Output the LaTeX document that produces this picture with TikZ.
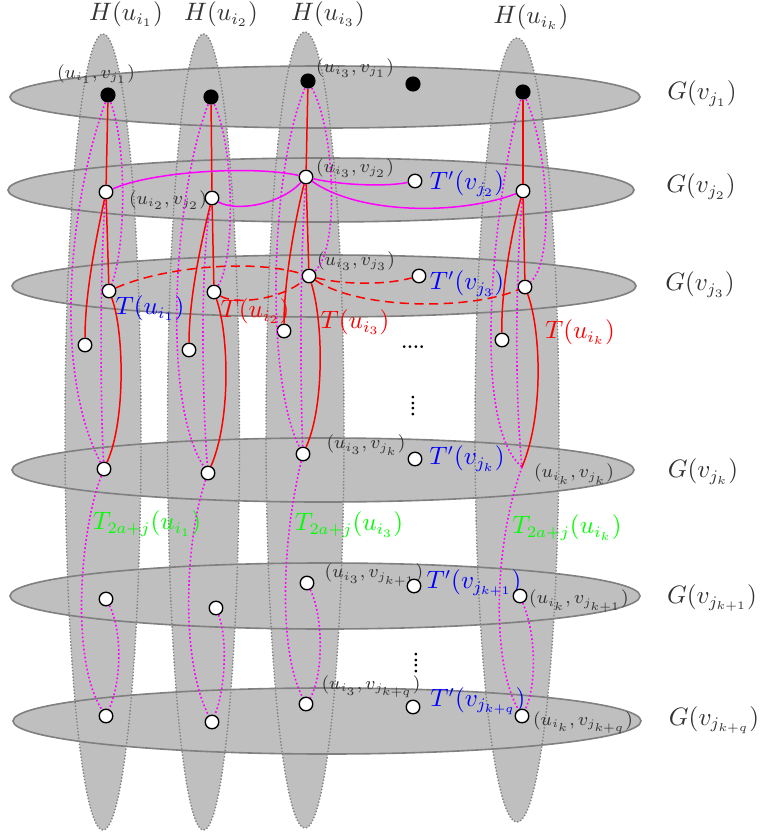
\documentclass[tikz,border=0pt]{standalone}
\definecolor{mag}{RGB}{255,0,255}
\definecolor{rd}{RGB}{255,0,0}
\definecolor{bl}{RGB}{0,0,255}
\definecolor{gr}{RGB}{0,255,0}
\definecolor{fillg}{RGB}{191,191,191}
\definecolor{edgeg}{RGB}{128,128,128}
\begin{document}
\begin{tikzpicture}[x=0.435pt,y=-0.435pt,
  colborder/.style={draw=edgeg, line width=0.6pt, dash pattern=on 0.6pt off 0.8pt},
  rowborder/.style={draw=edgeg, line width=0.7pt},
  bnode/.style={circle, fill=black, draw=none, inner sep=0pt, minimum size=6.6pt},
  wnode/.style={circle, draw=black, fill=white, line width=0.6pt, inner sep=0pt, minimum size=5.9pt},
  rline/.style={rd, line width=0.65pt},
  rdash/.style={rd, line width=0.65pt, dash pattern=on 4pt off 2.4pt},
  mline/.style={mag, line width=0.65pt},
  mdot/.style={mag, line width=0.72pt, dash pattern=on 0.72pt off 1.05pt},
  slbl/.style={text=black!80, font=\fontsize{7.6}{9}\selectfont, inner sep=0pt},
  blbl/.style={text=black!80, font=\fontsize{10.5}{12}\selectfont, inner sep=0pt},
  tlbl/.style={font=\fontsize{10.5}{12}\selectfont, inner sep=0pt},
  dots/.style={font=\fontsize{7.5}{8}\selectfont\bfseries, inner sep=0pt}]
\useasboundingbox (0,0) rectangle (760,837);
% fills
\foreach \cx/\cy/\rx/\ry in {103/432/38/398, 203.5/432/36/398, 305/430/39/398, 517/430/42/392}
  \fill[fillg] (\cx,\cy) ellipse [x radius=\rx*0.435pt, y radius=\ry*0.435pt];
\foreach \cx/\cy/\rx/\ry in {325/97/315/31, 321/190/313/32, 324/286/312/31, 323/470/311/32, 325/596/315/33, 327/721/314/33}
  \fill[fillg] (\cx,\cy) ellipse [x radius=\rx*0.435pt, y radius=\ry*0.435pt];
% borders
\foreach \cx/\cy/\rx/\ry in {103/432/38/398, 203.5/432/36/398, 305/430/39/398, 517/430/42/392}
  \path[colborder] (\cx,\cy) ellipse [x radius=\rx*0.435pt, y radius=\ry*0.435pt];
\foreach \cx/\cy/\rx/\ry in {325/97/315/31, 321/190/313/32, 324/286/312/31, 323/470/311/32, 325/596/315/33, 327/721/314/33}
  \path[rowborder] (\cx,\cy) ellipse [x radius=\rx*0.435pt, y radius=\ry*0.435pt];

% labels
\node[blbl] (h1) at (126,14) {$H(u_{i_1})$};
\node[blbl] (h2) at (221,14) {$H(u_{i_2})$};
\node[blbl] (h3) at (328,14) {$H(u_{i_3})$};
\node[blbl] (h4) at (531,17) {$H(u_{i_k})$};
\node[blbl] (g1) at (702,94) {$G(v_{j_1})$};
\node[blbl] (g2) at (701,187) {$G(v_{j_2})$};
\node[blbl] (g3) at (700,285) {$G(v_{j_3})$};
\node[blbl] (g4) at (703,472) {$G(v_{j_k})$};
\node[blbl] (g5) at (712,598) {$G(v_{j_{k+1}})$};
\node[blbl] (g6) at (714,720) {$G(v_{j_{k+q}})$};

\node[slbl] (l11) at (96,74) {$(u_{i_1},v_{j_1})$};
\node[slbl] (l31) at (355,68) {$(u_{i_3},v_{j_1})$};
\node[slbl] (l22) at (168,200) {$(u_{i_2},v_{j_2})$};
\node[slbl] (l32) at (355,168) {$(u_{i_3},v_{j_2})$};
\node[slbl] (l33) at (356,261) {$(u_{i_3},v_{j_3})$};
\node[slbl] (l3k) at (366,445) {$(u_{i_3},v_{j_k})$};
\node[slbl] (lkk) at (574,474) {$(u_{i_k},v_{j_k})$};
\node[slbl] (l3k1) at (374,575) {$(u_{i_3},v_{j_{k+1}})$};
\node[slbl] (lkk1) at (579,601) {$(u_{i_k},v_{j_{k+1}})$};
\node[slbl] (l3kq) at (371,687) {$(u_{i_3},v_{j_{k+q}})$};
\node[slbl] (lkkq) at (583,723) {$(u_{i_k},v_{j_{k+q}})$};

\node[tlbl, text=bl] (tp2) at (467,184) {$T'(v_{j_2})$};
\node[tlbl, text=bl] (tp3) at (467,284) {$T'(v_{j_3})$};
\node[tlbl, text=bl] (tpk) at (467,459) {$T'(v_{j_k})$};
\node[tlbl, text=bl] (tpk1) at (474,583) {$T'(v_{j_{k+1}})$};
\node[tlbl, text=bl] (tpkq) at (478,701) {$T'(v_{j_{k+q}})$};
\node[tlbl, text=bl] (tu1) at (150,308) {$T(u_{i_1})$};
\node[tlbl, text=rd] (tu2) at (255,311) {$T(u_{i_2})$};
\node[tlbl, text=rd] (tu3) at (355,322) {$T(u_{i_3})$};
\node[tlbl, text=rd] (tuk) at (580,332) {$T(u_{i_k})$};
\node[tlbl, text=gr] (tt1) at (147,524) {$T_{2a+j}(u_{i_1})$};
\node[tlbl, text=gr] (tt3) at (349,525) {$T_{2a+j}(u_{i_3})$};
\node[tlbl, text=gr] (ttk) at (567,528) {$T_{2a+j}(u_{i_k})$};

\node[dots] (hd) at (413,347) {....};
\node[dots, rotate=90] (vd1) at (413,406) {....};
\node[dots, rotate=90] (vd2) at (416,663) {....};

% nodes
\node[bnode] (n11) at (108,95) {};
\node[bnode] (n12) at (211,97) {};
\node[bnode] (n13) at (308,81) {};
\node[bnode] (n1x) at (413,84) {};
\node[bnode] (n14) at (523,92) {};

\node[wnode] (a21) at (106,192) {};
\node[wnode] (a22) at (212,198) {};
\node[wnode] (a23) at (306,177) {};
\node[wnode] (a2x) at (415,181) {};
\node[wnode] (a24) at (523,191) {};

\node[wnode] (a31) at (109,291) {};
\node[wnode] (a32) at (214,292) {};
\node[wnode] (a33) at (309,276) {};
\node[wnode] (a3x) at (419,276) {};
\node[wnode] (a34) at (525,287) {};

\node[wnode] (b1) at (85,345) {};
\node[wnode] (b2) at (189,350) {};
\node[wnode] (b3) at (284,331) {};
\node[wnode] (b4) at (502,340) {};

\node[wnode] (k1) at (104,469) {};
\node[wnode] (k2) at (208,473) {};
\node[wnode] (k3) at (303,454) {};
\node[wnode] (kx) at (415,459) {};
\coordinate (k4) at (522,467);

\node[wnode] (d1) at (106,599) {};
\node[wnode] (d2) at (216,608) {};
\node[wnode] (d3) at (307,583) {};
\node[wnode] (dx) at (414,586) {};
\node[wnode] (d4) at (520,596) {};

\node[wnode] (e1) at (106,716) {};
\node[wnode] (e2) at (212,722) {};
\node[wnode] (e3) at (306,704) {};
\node[wnode] (ex) at (413,707) {};
\node[wnode] (e4) at (522,716) {};

% magenta dotted paths
\draw[mdot] (n11) .. controls (70,200) and (52,370) .. (k1);
\draw[mdot] (n11) .. controls (128,150) and (125,250) .. (a31);
\draw[mdot] (a21) .. controls (100,260) and (100,400) .. (k1);
\draw[mdot] (k1) .. controls (80,530) and (70,660) .. (e1);
\draw[mdot] (d1) .. controls (122,630) and (122,680) .. (e1);

\draw[mdot] (n12) .. controls (175,190) and (160,400) .. (k2);
\draw[mdot] (n12) .. controls (235,150) and (235,260) .. (a32);
\draw[mdot] (a22) .. controls (200,260) and (202,400) .. (k2);
\draw[mdot] (k2) .. controls (185,540) and (180,660) .. (e2);
\draw[mdot] (d2) .. controls (228,640) and (225,690) .. (e2);

\draw[mdot] (n13) .. controls (270,170) and (265,380) .. (k3);
\draw[mdot] (n13) .. controls (335,130) and (340,250) .. (a33);
\draw[mdot] (a23) .. controls (300,260) and (300,380) .. (k3);
\draw[mdot] (k3) .. controls (282,540) and (278,650) .. (e3);
\draw[mdot] (d3) .. controls (325,620) and (322,680) .. (e3);

\draw[mdot] (n14) .. controls (500,170) and (465,420) .. (k4);
\draw[mdot] (n14) .. controls (548,150) and (555,260) .. (a34);
\draw[mdot] (a24) .. controls (515,280) and (515,400) .. (k4);
\draw[mdot] (k4) .. controls (495,540) and (490,660) .. (e4);
\draw[mdot] (d4) .. controls (538,640) and (535,690) .. (e4);

% red trees
\draw[rline] (n11) -- (a21);
\draw[rline] (a21) -- (a31);
\draw[rline] (a21) .. controls (98,230) and (85,290) .. (b1);
\draw[rline] (a31) .. controls (124,330) and (126,420) .. (k1);

\draw[rline] (n12) -- (a22);
\draw[rline] (a22) -- (a32);
\draw[rline] (a22) .. controls (203,235) and (189,295) .. (b2);
\draw[rline] (a32) .. controls (229,335) and (231,420) .. (k2);

\draw[rline] (n13) -- (a23);
\draw[rline] (a23) -- (a33);
\draw[rline] (a23) .. controls (296,215) and (284,280) .. (b3);
\draw[rline] (a33) .. controls (323,320) and (325,405) .. (k3);

\draw[rline] (n14) -- (a24);
\draw[rline] (a24) -- (a34);
\draw[rline] (a24) .. controls (512,230) and (501,290) .. (b4);
\draw[rline] (a34) .. controls (541,330) and (544,415) .. (k4);

% magenta solid in row j2
\draw[mline] (a21) .. controls (150,172) and (250,165) .. (a23);
\draw[mline] (a22) .. controls (235,212) and (280,205) .. (a23);
\draw[mline] (a23) .. controls (340,185) and (385,187) .. (a2x);
\draw[mline] (a23) .. controls (360,215) and (460,215) .. (a24);

% red dashed in row j3
\draw[rdash] (a31) .. controls (160,268) and (250,258) .. (a33);
\draw[rdash] (a32) .. controls (235,305) and (280,300) .. (a33);
\draw[rdash] (a33) .. controls (345,285) and (385,285) .. (a3x);
\draw[rdash] (a33) .. controls (360,310) and (470,310) .. (a34);
\end{tikzpicture}
\end{document}
